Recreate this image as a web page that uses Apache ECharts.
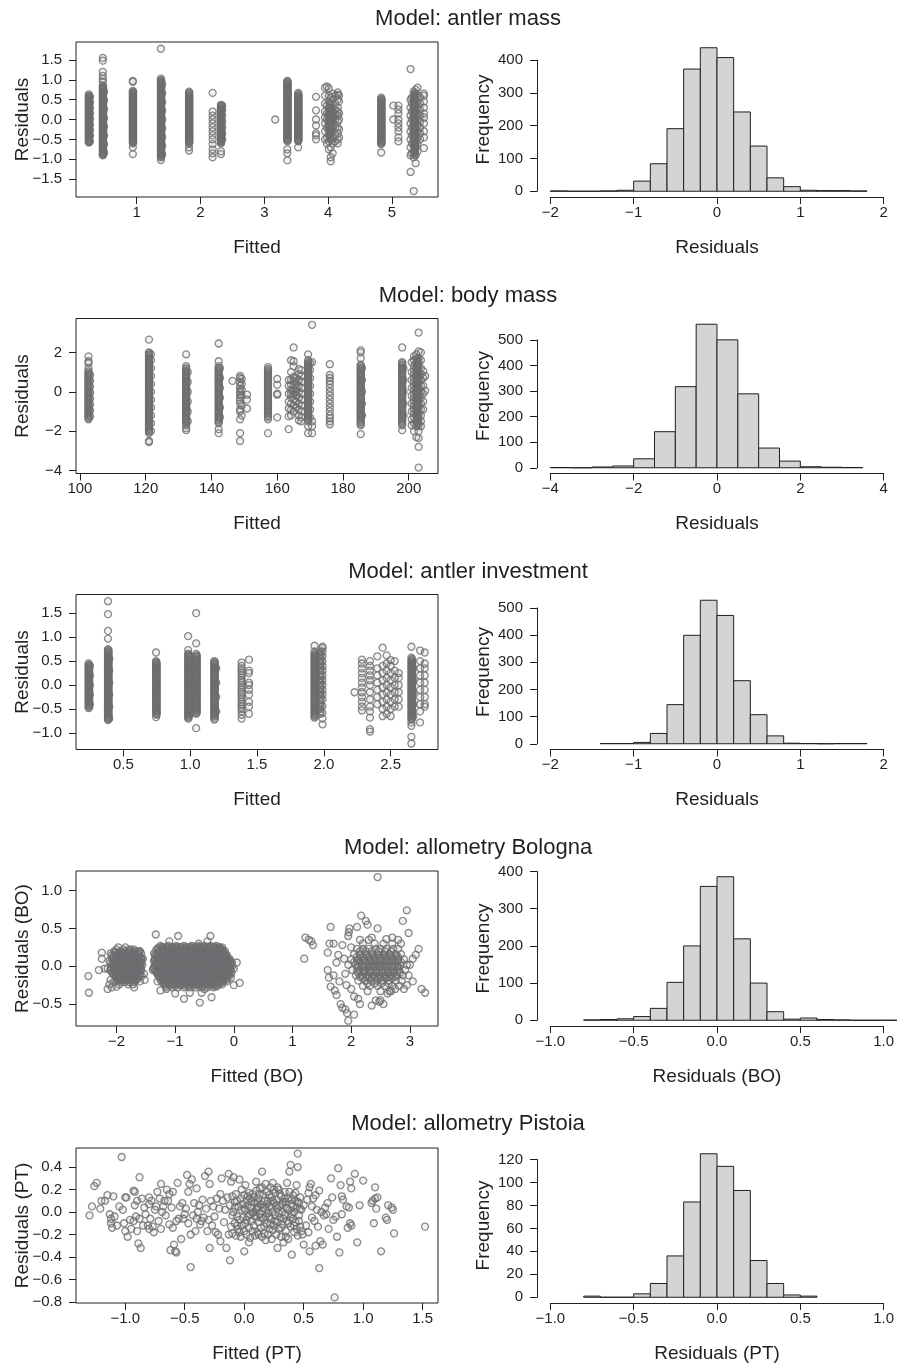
<!DOCTYPE html>
<html><head><meta charset="utf-8">
<script src="https://cdn.jsdelivr.net/npm/echarts@6/dist/echarts.min.js"></script>
<style>html,body{margin:0;padding:0;background:#fff}#c{width:908px;height:1365px}</style>
</head><body><div id="c"></div>
<script>
// ---------------- DATA ----------------
const titles = ["Model: antler mass", "Model: body mass", "Model: antler investment", "Model: allometry Bologna", "Model: allometry Pistoia"];
const scatterXNames = ["Fitted", "Fitted", "Fitted", "Fitted (BO)", "Fitted (PT)"];
const scatterYNames = ["Residuals", "Residuals", "Residuals", "Residuals (BO)", "Residuals (PT)"];
const histXNames = ["Residuals", "Residuals", "Residuals", "Residuals (BO)", "Residuals (PT)"];

// Histogram: first break, bin width, counts
const amHistStart = -2, amHistWidth = 0.2;
const amHistCounts = [1,0,0,1,3,31,84,191,373,438,408,242,138,41,14,3,2,2,1];
const bmHistStart = -4, bmHistWidth = 0.5;
const bmHistCounts = [1,0,3,7,35,141,317,561,500,289,77,26,4,2,1];
const aiHistStart = -1.4, aiHistWidth = 0.2;
const aiHistCounts = [1,1,5,38,144,399,528,472,232,107,29,2,1,0,1,1];
const boHistStart = -0.8, boHistWidth = 0.1;
const boHistCounts = [1,2,4,10,32,102,200,360,386,219,100,23,3,6,2,1,0,0,0,1];
const ptHistStart = -0.8, ptHistWidth = 0.1;
const ptHistCounts = [1,0,0,3,12,36,83,125,114,93,32,12,2,1];

// Tick labels (start, end, step, decimals)
const amXTicks = [1, 5, 1, 0], amYTicks = [-1.5, 1.5, 0.5, 1];
const bmXTicks = [100, 200, 20, 0], bmYTicks = [-4, 2, 2, 0];
const aiXTicks = [0.5, 2.5, 0.5, 1], aiYTicks = [-1, 1.5, 0.5, 1];
const boXTicks = [-2, 3, 1, 0], boYTicks = [-0.5, 1, 0.5, 1];
const ptXTicks = [-1, 1.5, 0.5, 1], ptYTicks = [-0.8, 0.4, 0.2, 1];
const hist1XTicks = [-2, 2, 1, 0], hist1YTicks = [0, 400, 100, 0];
const hist2XTicks = [-4, 4, 2, 0], hist2YTicks = [0, 500, 100, 0];
const hist3XTicks = [-2, 2, 1, 0], hist3YTicks = [0, 500, 100, 0];
const hist4XTicks = [-1, 1, 0.5, 1], hist4YTicks = [0, 400, 100, 0];
const hist5XTicks = [-1, 1, 0.5, 1], hist5YTicks = [0, 120, 20, 0];

// Scatter: antler mass — columns [fitted, [residuals]]
const amCols = [
 [0.25,[-0.58,-0.54,-0.5,-0.46,-0.42,-0.38,-0.34,-0.3,-0.26,-0.22,-0.18,-0.14,-0.1,-0.06,-0.02,0.02,0.06,0.1,0.14,0.18,0.22,0.26,0.3,0.34,0.38,0.42,0.46,0.5,0.54,0.58,0.63]],
 [0.255,[-0.56,-0.52,-0.48,-0.44,-0.4,-0.36,-0.32,-0.28,-0.24,-0.2,-0.16,-0.12,-0.08,-0.04,0,0.04,0.08,0.12,0.16,0.2,0.24,0.28,0.32,0.36,0.4,0.44,0.48,0.52,0.56,0.6]],
 [0.27,[-0.55,-0.41,-0.27,-0.13,0.01,0.15,0.29,0.43,0.57]],
 [0.47,[-0.9,-0.87,-0.83,-0.79,-0.75,-0.71,-0.67,-0.63,-0.59,-0.55,-0.51,-0.47,-0.43,-0.39,-0.35,-0.31,-0.27,-0.23,-0.19,-0.15,-0.11,-0.07,-0.03,0.01,0.05,0.09,0.13,0.17,0.21,0.25,0.29,0.33,0.37,0.41,0.45,0.49,0.53,0.57,0.61,0.65,0.69,0.73,0.77,0.81,0.85,0.95,1.02,1.1,1.2,1.48,1.55]],
 [0.475,[-0.89,-0.85,-0.81,-0.77,-0.73,-0.69,-0.65,-0.61,-0.57,-0.53,-0.49,-0.45,-0.41,-0.37,-0.33,-0.29,-0.25,-0.21,-0.17,-0.13,-0.09,-0.05,-0.01,0.03,0.07,0.11,0.15,0.19,0.23,0.27,0.31,0.35,0.39,0.43,0.47,0.51,0.55,0.59,0.63,0.67,0.71,0.75,0.79,0.83]],
 [0.49,[-0.84,-0.62,-0.4,-0.18,0.04,0.26,0.48,0.7]],
 [0.94,[-0.87,-0.7,-0.6,-0.56,-0.52,-0.48,-0.44,-0.4,-0.36,-0.32,-0.28,-0.24,-0.2,-0.16,-0.12,-0.08,-0.04,0,0.04,0.08,0.12,0.16,0.2,0.24,0.28,0.32,0.36,0.4,0.44,0.48,0.52,0.56,0.6,0.64,0.68,0.72,0.95,0.97]],
 [0.945,[-0.58,-0.54,-0.5,-0.46,-0.42,-0.38,-0.34,-0.3,-0.26,-0.22,-0.18,-0.14,-0.1,-0.06,-0.02,0.02,0.06,0.1,0.14,0.18,0.22,0.26,0.3,0.34,0.38,0.42,0.46,0.5,0.54,0.58,0.62,0.66,0.7]],
 [1.38,[-1.02,-0.95,-0.91,-0.87,-0.83,-0.79,-0.75,-0.71,-0.67,-0.63,-0.59,-0.55,-0.51,-0.47,-0.43,-0.39,-0.35,-0.31,-0.27,-0.23,-0.19,-0.15,-0.11,-0.07,-0.03,0.01,0.05,0.09,0.13,0.17,0.21,0.25,0.29,0.33,0.37,0.41,0.45,0.49,0.53,0.57,0.61,0.65,0.69,0.73,0.77,0.81,0.85,0.89,0.93,0.97,1.03,1.78]],
 [1.385,[-0.93,-0.89,-0.85,-0.81,-0.77,-0.73,-0.69,-0.65,-0.61,-0.57,-0.53,-0.49,-0.45,-0.41,-0.37,-0.33,-0.29,-0.25,-0.21,-0.17,-0.13,-0.09,-0.05,-0.01,0.03,0.07,0.11,0.15,0.19,0.23,0.27,0.31,0.35,0.39,0.43,0.47,0.51,0.55,0.59,0.63,0.67,0.71,0.75,0.79,0.83,0.87,0.91,0.95,0.99]],
 [1.40,[-0.88,-0.66,-0.44,-0.22,0,0.22,0.44,0.66,0.88]],
 [1.82,[-0.78,-0.7,-0.6,-0.56,-0.52,-0.48,-0.44,-0.4,-0.36,-0.32,-0.28,-0.24,-0.2,-0.16,-0.12,-0.08,-0.04,0,0.04,0.08,0.12,0.16,0.2,0.24,0.28,0.32,0.36,0.4,0.44,0.48,0.52,0.56,0.6,0.65,0.7]],
 [1.825,[-0.58,-0.54,-0.5,-0.46,-0.42,-0.38,-0.34,-0.3,-0.26,-0.22,-0.18,-0.14,-0.1,-0.06,-0.02,0.02,0.06,0.1,0.14,0.18,0.22,0.26,0.3,0.34,0.38,0.42,0.46,0.5,0.54,0.58,0.62,0.67]],
 [2.19,[-0.95,-0.85,-0.75,-0.62,-0.5,-0.4,-0.3,-0.2,-0.1,0.0,0.1,0.2,0.67]],
 [2.32,[-0.87,-0.8,-0.6,-0.56,-0.52,-0.48,-0.44,-0.4,-0.36,-0.32,-0.28,-0.24,-0.2,-0.16,-0.12,-0.08,-0.04,0,0.04,0.08,0.12,0.16,0.2,0.24,0.28,0.32,0.37]],
 [2.325,[-0.58,-0.54,-0.5,-0.46,-0.42,-0.38,-0.34,-0.3,-0.26,-0.22,-0.18,-0.14,-0.1,-0.06,-0.02,0.02,0.06,0.1,0.14,0.18,0.22,0.26,0.3,0.34]],
 [2.34,[-0.5,-0.35,-0.2,-0.05,0.1,0.25,0.35]],
 [3.17,[0.0]],
 [3.36,[-1.03,-0.85,-0.75,-0.55,-0.51,-0.47,-0.43,-0.39,-0.35,-0.31,-0.27,-0.23,-0.19,-0.15,-0.11,-0.07,-0.03,0.01,0.05,0.09,0.13,0.17,0.21,0.25,0.29,0.33,0.37,0.41,0.45,0.49,0.53,0.57,0.61,0.65,0.69,0.73,0.77,0.81,0.85,0.89,0.93,0.97]],
 [3.365,[-0.53,-0.49,-0.45,-0.41,-0.37,-0.33,-0.29,-0.25,-0.21,-0.17,-0.13,-0.09,-0.05,-0.01,0.03,0.07,0.11,0.15,0.19,0.23,0.27,0.31,0.35,0.39,0.43,0.47,0.51,0.55,0.59,0.63,0.67,0.71,0.75,0.79,0.83,0.87,0.91,0.95]],
 [3.53,[-0.7,-0.55,-0.51,-0.47,-0.43,-0.39,-0.35,-0.31,-0.27,-0.23,-0.19,-0.15,-0.11,-0.07,-0.03,0.01,0.05,0.09,0.13,0.17,0.21,0.25,0.29,0.33,0.37,0.41,0.45,0.49,0.53,0.57,0.61,0.67]],
 [3.535,[-0.53,-0.49,-0.45,-0.41,-0.37,-0.33,-0.29,-0.25,-0.21,-0.17,-0.13,-0.09,-0.05,-0.01,0.03,0.07,0.11,0.15,0.19,0.23,0.27,0.31,0.35,0.39,0.43,0.47,0.51,0.55,0.59,0.64]],
 [3.81,[-0.5,-0.4,-0.35,-0.15,0.0,0.23,0.57]],
 [3.95,[-0.5,-0.3,-0.1,0.05,0.2,0.4,0.6,0.8]],
 [3.98,[-0.6,-0.45,-0.2,0.0,0.15,0.35,0.83]],
 [4.01,[-0.75,-0.55,-0.4,-0.3,-0.2,-0.1,0.0,0.1,0.2,0.3,0.45,0.6,0.78]],
 [4.03,[-0.5,-0.44,-0.38,-0.32,-0.26,-0.2,-0.14,-0.08,-0.02,0.04,0.1,0.16,0.22,0.28,0.34,0.4]],
 [4.04,[-1.05,-0.95,-0.7,-0.5,-0.35,-0.25,-0.15,-0.05,0.05,0.15,0.25,0.4,0.55]],
 [4.07,[-0.85,-0.6,-0.45,-0.3,-0.2,-0.1,0.0,0.1,0.2,0.3,0.5,0.65]],
 [4.11,[-0.55,-0.4,-0.2,0.0,0.1,0.25,0.4,0.6]],
 [4.15,[-0.6,-0.5,-0.35,-0.2,-0.05,0.1,0.2,0.3,0.5,0.62,0.68]],
 [4.17,[-0.45,-0.25,0.0,0.15,0.45,0.6]],
 [4.83,[-0.83,-0.62,-0.58,-0.54,-0.5,-0.46,-0.42,-0.38,-0.34,-0.3,-0.26,-0.22,-0.18,-0.14,-0.1,-0.06,-0.02,0.02,0.06,0.1,0.14,0.18,0.22,0.26,0.3,0.34,0.38,0.42,0.46,0.5,0.55]],
 [4.835,[-0.6,-0.56,-0.52,-0.48,-0.44,-0.4,-0.36,-0.32,-0.28,-0.24,-0.2,-0.16,-0.12,-0.08,-0.04,0,0.04,0.08,0.12,0.16,0.2,0.24,0.28,0.32,0.36,0.4,0.44,0.48,0.52]],
 [5.02,[0.35,0.0]],
 [5.10,[-0.55,-0.45,-0.3,-0.2,-0.1,0.0,0.15,0.25,0.35]],
 [5.29,[-1.32,-0.9,-0.7,-0.5,-0.3,-0.1,0.1,0.3,0.5,1.27]],
 [5.31,[-0.85,-0.6,-0.4,-0.2,0.0,0.2,0.4,0.55]],
 [5.34,[-1.8,-0.95,-0.8,-0.65,-0.55,-0.45,-0.35,-0.25,-0.15,-0.05,0.05,0.15,0.25,0.35,0.45,0.55,0.7]],
 [5.355,[-0.88,-0.84,-0.8,-0.76,-0.72,-0.68,-0.64,-0.6,-0.56,-0.52,-0.48,-0.44,-0.4,-0.36,-0.32,-0.28,-0.24,-0.2,-0.16,-0.12,-0.08,-0.04,0,0.04,0.08,0.12,0.16,0.2,0.24,0.28,0.32,0.36,0.4,0.44,0.48,0.52,0.56,0.6,0.64]],
 [5.36,[-0.86,-0.82,-0.78,-0.74,-0.7,-0.66,-0.62,-0.58,-0.54,-0.5,-0.46,-0.42,-0.38,-0.34,-0.3,-0.26,-0.22,-0.18,-0.14,-0.1,-0.06,-0.02,0.02,0.06,0.1,0.14,0.18,0.22,0.26,0.3,0.34,0.38,0.42,0.46,0.5,0.54,0.58,0.62,0.66]],
 [5.37,[-1.1,-0.9,-0.7,-0.6,-0.5,-0.4,-0.3,-0.2,-0.1,0.0,0.1,0.2,0.3,0.4,0.5,0.6,0.75]],
 [5.40,[-0.8,-0.6,-0.45,-0.3,-0.15,0.0,0.15,0.3,0.45,0.6,0.8]],
 [5.44,[-0.5,-0.35,-0.2,-0.05,0.1,0.25,0.4,0.55]],
 [5.50,[-0.72,-0.45,-0.3,-0.1,0.05,0.15,0.3,0.45,0.6,0.65]]
];

// Scatter: body mass
const bmCols = [
 [102.6,[-1.4,-1.34,-1.27,-1.2,-1.13,-1.06,-0.99,-0.92,-0.85,-0.78,-0.71,-0.64,-0.57,-0.5,-0.43,-0.36,-0.29,-0.22,-0.15,-0.08,-0.01,0.06,0.13,0.2,0.27,0.34,0.41,0.48,0.55,0.62,0.69,0.76,0.83,0.9,0.97,1.04,1.2,1.45,1.55,1.8]],
 [103.1,[-1.25,-0.95,-0.65,-0.35,-0.05,0.25,0.55,0.85]],
 [121.0,[-2.55,-2.5,-2.1,-2.03,-1.96,-1.89,-1.82,-1.75,-1.68,-1.61,-1.54,-1.47,-1.4,-1.33,-1.26,-1.19,-1.12,-1.05,-0.98,-0.91,-0.84,-0.77,-0.7,-0.63,-0.56,-0.49,-0.42,-0.35,-0.28,-0.21,-0.14,-0.07,0,0.07,0.14,0.21,0.28,0.35,0.42,0.49,0.56,0.63,0.7,0.77,0.84,0.91,0.98,1.05,1.12,1.19,1.26,1.33,1.4,1.47,1.54,1.61,1.68,1.75,1.82,1.89,1.96,2.0,2.65]],
 [121.6,[-2.0,-1.6,-1.2,-0.8,-0.4,0.0,0.4,0.8,1.2,1.6,1.9]],
 [132.3,[-1.95,-1.85,-1.7,-1.6,-1.53,-1.46,-1.39,-1.32,-1.25,-1.18,-1.11,-1.04,-0.97,-0.9,-0.83,-0.76,-0.69,-0.62,-0.55,-0.48,-0.41,-0.34,-0.27,-0.2,-0.13,-0.06,0.01,0.08,0.15,0.22,0.29,0.36,0.43,0.5,0.57,0.64,0.71,0.78,0.85,0.92,0.99,1.06,1.13,1.2,1.3,1.9]],
 [132.8,[-1.5,-1.0,-0.5,0.0,0.5,1.0]],
 [142.2,[-2.1,-1.9,-1.6,-1.53,-1.46,-1.39,-1.32,-1.25,-1.18,-1.11,-1.04,-0.97,-0.9,-0.83,-0.76,-0.69,-0.62,-0.55,-0.48,-0.41,-0.34,-0.27,-0.2,-0.13,-0.06,0.01,0.08,0.15,0.22,0.29,0.36,0.43,0.5,0.57,0.64,0.71,0.78,0.85,0.92,0.99,1.06,1.13,1.2,1.3,1.55,2.45]],
 [142.6,[-1.3,-0.8,-0.3,0.2,0.7,1.2]],
 [146.4,[0.55]],
 [148.7,[-2.5,-2.1,-1.4,-1.0,-0.9,-0.6,-0.45,-0.3,-0.15,0.0,0.15,0.3,0.5,0.7,0.8]],
 [149.2,[-1.2,-0.7,-0.2,0.1,0.4,0.65]],
 [150.8,[-0.15,-0.4,-0.85]],
 [157.2,[-2.1,-1.4,-1.3,-1.23,-1.16,-1.09,-1.02,-0.95,-0.88,-0.81,-0.74,-0.67,-0.6,-0.53,-0.46,-0.39,-0.32,-0.25,-0.18,-0.11,-0.04,0.03,0.1,0.17,0.24,0.31,0.38,0.45,0.52,0.59,0.66,0.73,0.8,0.87,0.94,1.01,1.08,1.15,1.25]],
 [160.0,[0.65,0.35,-0.1,-0.15,-1.3]],
 [163.5,[-1.9,-1.25,-0.85,-0.5,-0.1,0.3,0.6]],
 [164.2,[-1.2,-0.9,-0.6,-0.3,-0.1,0.1,0.35,0.6,1.0,1.6]],
 [165.0,[-1.0,-0.7,-0.4,-0.15,0.05,0.3,0.55,0.75,1.3,1.55,2.25]],
 [165.8,[-0.8,-0.5,-0.2,0.0,0.2,0.45,0.7]],
 [166.6,[-1.45,-1.2,-0.9,-0.6,-0.3,0.0,0.3,0.6,0.9,1.15]],
 [167.3,[-1.5,-1.3,-1.0,-0.7,-0.4,-0.1,0.2,0.5,0.8,1.1]],
 [169.4,[-2.1,-1.75,-1.5,-1.43,-1.36,-1.29,-1.22,-1.15,-1.08,-1.01,-0.94,-0.87,-0.8,-0.73,-0.66,-0.59,-0.52,-0.45,-0.38,-0.31,-0.24,-0.17,-0.1,-0.03,0.04,0.11,0.18,0.25,0.32,0.39,0.46,0.53,0.6,0.67,0.74,0.81,0.88,0.95,1.02,1.09,1.16,1.23,1.3,1.37,1.44,1.5,1.6,1.9]],
 [170.0,[-1.3,-0.9,-0.5,-0.1,0.3,0.7,1.1,1.45]],
 [170.6,[3.4,-1.75,-2.1,1.5,-1.5]],
 [176.0,[-1.65,-1.5,-1.35,-1.2,-1.0,-0.8,-0.6,-0.4,-0.2,0.0,0.2,0.4,0.55,0.7,0.85,1.4]],
 [185.4,[-2.15,-1.7,-1.63,-1.56,-1.49,-1.42,-1.35,-1.28,-1.21,-1.14,-1.07,-1.0,-0.93,-0.86,-0.79,-0.72,-0.65,-0.58,-0.51,-0.44,-0.37,-0.3,-0.23,-0.16,-0.09,-0.02,0.05,0.12,0.19,0.26,0.33,0.4,0.47,0.54,0.61,0.68,0.75,0.82,0.89,0.96,1.03,1.1,1.17,1.24,1.31,1.38,1.7,2.0,2.1]],
 [185.8,[-1.2,-0.6,0.0,0.6,1.2]],
 [198.0,[-1.95,-1.7,-1.63,-1.56,-1.49,-1.42,-1.35,-1.28,-1.21,-1.14,-1.07,-1.0,-0.93,-0.86,-0.79,-0.72,-0.65,-0.58,-0.51,-0.44,-0.37,-0.3,-0.23,-0.16,-0.09,-0.02,0.05,0.12,0.19,0.26,0.33,0.4,0.47,0.54,0.61,0.68,0.75,0.82,0.89,0.96,1.03,1.1,1.17,1.24,1.31,1.38,1.45,1.5,2.25]],
 [198.4,[-1.2,-0.6,0.0,0.6,1.2]],
 [200.9,[-1.7,-1.4,-1.0,-0.6,-0.2,0.2,0.6,1.0,1.5]],
 [201.6,[-2.0,-1.6,-1.3,-1.1,-0.9,-0.7,-0.5,-0.3,-0.1,0.1,0.3,0.5,0.7,0.9,1.1,1.3,1.6,1.8]],
 [202.3,[-2.3,-1.75,-1.5,-1.25,-1.0,-0.8,-0.6,-0.4,-0.2,0.0,0.2,0.4,0.6,0.8,1.0,1.2,1.45,1.7,1.9]],
 [202.65,[-1.65,-1.58,-1.51,-1.44,-1.37,-1.3,-1.23,-1.16,-1.09,-1.02,-0.95,-0.88,-0.81,-0.74,-0.67,-0.6,-0.53,-0.46,-0.39,-0.32,-0.25,-0.18,-0.11,-0.04,0.03,0.1,0.17,0.24,0.31,0.38,0.45,0.52,0.59,0.66,0.73,0.8,0.87,0.94,1.01,1.08,1.15,1.22,1.29,1.36,1.43,1.5,1.57,1.64]],
 [203.0,[-3.85,-2.8,-2.35,-2.0,-1.7,-1.4,-1.2,-1.0,-0.8,-0.6,-0.4,-0.2,0.0,0.2,0.4,0.6,0.8,1.0,1.25,1.5,1.7,2.05,3.0]],
 [203.7,[-1.75,-1.5,-1.2,-0.9,-0.6,-0.3,0.0,0.3,0.6,0.9,1.2,1.6,2.0]],
 [204.4,[-0.9,-0.5,-0.1,0.3,0.7,1.05]],
 [205.0,[0.05,0.8]]
];

// Scatter: antler investment
const aiCols = [
 [0.24,[-0.48,-0.44,-0.4,-0.36,-0.32,-0.28,-0.24,-0.2,-0.16,-0.12,-0.08,-0.04,0,0.04,0.08,0.12,0.16,0.2,0.24,0.28,0.32,0.36,0.4,0.45]],
 [0.245,[-0.46,-0.42,-0.38,-0.34,-0.3,-0.26,-0.22,-0.18,-0.14,-0.1,-0.06,-0.02,0.02,0.06,0.1,0.14,0.18,0.22,0.26,0.3,0.34,0.38,0.42]],
 [0.25,[-0.4,-0.2,0.0,0.2,0.4]],
 [0.385,[-0.73,-0.69,-0.65,-0.61,-0.57,-0.53,-0.49,-0.45,-0.41,-0.37,-0.33,-0.29,-0.25,-0.21,-0.17,-0.13,-0.09,-0.05,-0.01,0.03,0.07,0.11,0.15,0.19,0.23,0.27,0.31,0.35,0.39,0.43,0.47,0.51,0.55,0.59,0.63,0.67,0.71,0.75,0.97,1.13,1.48,1.75]],
 [0.39,[-0.71,-0.67,-0.63,-0.59,-0.55,-0.51,-0.47,-0.43,-0.39,-0.35,-0.31,-0.27,-0.23,-0.19,-0.15,-0.11,-0.07,-0.03,0.01,0.05,0.09,0.13,0.17,0.21,0.25,0.29,0.33,0.37,0.41,0.45,0.49,0.53,0.57,0.61,0.65,0.69,0.73]],
 [0.395,[-0.7,-0.45,-0.2,0.05,0.3,0.55]],
 [0.745,[-0.67,-0.6,-0.56,-0.52,-0.48,-0.44,-0.4,-0.36,-0.32,-0.28,-0.24,-0.2,-0.16,-0.12,-0.08,-0.04,0,0.04,0.08,0.12,0.16,0.2,0.24,0.28,0.32,0.36,0.4,0.44,0.48,0.5,0.68]],
 [0.75,[-0.62,-0.58,-0.54,-0.5,-0.46,-0.42,-0.38,-0.34,-0.3,-0.26,-0.22,-0.18,-0.14,-0.1,-0.06,-0.02,0.02,0.06,0.1,0.14,0.18,0.22,0.26,0.3,0.34,0.38,0.42,0.46]],
 [0.985,[-0.7,-0.66,-0.62,-0.58,-0.54,-0.5,-0.46,-0.42,-0.38,-0.34,-0.3,-0.26,-0.22,-0.18,-0.14,-0.1,-0.06,-0.02,0.02,0.06,0.1,0.14,0.18,0.22,0.26,0.3,0.34,0.38,0.42,0.46,0.5,0.54,0.58,0.62,0.65,0.73,1.02]],
 [0.99,[-0.68,-0.64,-0.6,-0.56,-0.52,-0.48,-0.44,-0.4,-0.36,-0.32,-0.28,-0.24,-0.2,-0.16,-0.12,-0.08,-0.04,0,0.04,0.08,0.12,0.16,0.2,0.24,0.28,0.32,0.36,0.4,0.44,0.48,0.52,0.56,0.6,0.64]],
 [1.0,[-0.6,-0.3,0.0,0.3,0.6]],
 [1.045,[-0.9,-0.6,-0.56,-0.52,-0.48,-0.44,-0.4,-0.36,-0.32,-0.28,-0.24,-0.2,-0.16,-0.12,-0.08,-0.04,0,0.04,0.08,0.12,0.16,0.2,0.24,0.28,0.32,0.36,0.4,0.44,0.48,0.52,0.56,0.6,0.65,0.87,1.5]],
 [1.05,[-0.58,-0.54,-0.5,-0.46,-0.42,-0.38,-0.34,-0.3,-0.26,-0.22,-0.18,-0.14,-0.1,-0.06,-0.02,0.02,0.06,0.1,0.14,0.18,0.22,0.26,0.3,0.34,0.38,0.42,0.46,0.5,0.54,0.58,0.62]],
 [1.18,[-0.72,-0.66,-0.62,-0.58,-0.54,-0.5,-0.46,-0.42,-0.38,-0.34,-0.3,-0.26,-0.22,-0.18,-0.14,-0.1,-0.06,-0.02,0.02,0.06,0.1,0.14,0.18,0.22,0.26,0.3,0.34,0.38,0.42,0.46,0.5]],
 [1.185,[-0.7,-0.64,-0.6,-0.56,-0.52,-0.48,-0.44,-0.4,-0.36,-0.32,-0.28,-0.24,-0.2,-0.16,-0.12,-0.08,-0.04,0,0.04,0.08,0.12,0.16,0.2,0.24,0.28,0.32,0.36,0.4,0.44,0.48]],
 [1.195,[-0.55,-0.25,0.05,0.35]],
 [1.385,[-0.7,-0.62,-0.55,-0.5,-0.45,-0.4,-0.35,-0.3,-0.25,-0.2,-0.15,-0.1,-0.05,0,0.05,0.1,0.15,0.2,0.25,0.3,0.35,0.4,0.47]],
 [1.44,[-0.6,-0.45,-0.35,-0.2,-0.1,0.0,0.05,0.25,0.3,0.53]],
 [1.93,[-0.68,-0.64,-0.6,-0.56,-0.52,-0.48,-0.44,-0.4,-0.36,-0.32,-0.28,-0.24,-0.2,-0.16,-0.12,-0.08,-0.04,0,0.04,0.08,0.12,0.16,0.2,0.24,0.28,0.32,0.36,0.4,0.44,0.48,0.52,0.56,0.6,0.64,0.7,0.82]],
 [1.935,[-0.66,-0.62,-0.58,-0.54,-0.5,-0.46,-0.42,-0.38,-0.34,-0.3,-0.26,-0.22,-0.18,-0.14,-0.1,-0.06,-0.02,0.02,0.06,0.1,0.14,0.18,0.22,0.26,0.3,0.34,0.38,0.42,0.46,0.5,0.54,0.58,0.62,0.66]],
 [1.96,[-0.5,-0.2,0.1,0.4,0.65]],
 [1.975,[-0.6,-0.55,-0.5,-0.45,-0.4,-0.35,-0.3,-0.25,-0.2,-0.15,-0.1,-0.05,0,0.05,0.1,0.15,0.2,0.25,0.3,0.35,0.4,0.45,0.5,0.55,0.6,0.65,0.7]],
 [1.99,[-0.82,-0.7,-0.58,-0.44,-0.3,-0.2,-0.1,0.0,0.1,0.2,0.3,0.4,0.5,0.6,0.7,0.77,0.8]],
 [2.23,[-0.15]],
 [2.285,[-0.53,-0.45,-0.35,-0.25,-0.15,-0.05,0.05,0.15,0.25,0.35,0.45,0.53]],
 [2.345,[-0.97,-0.92,-0.68,-0.55,-0.45,-0.3,-0.15,0.0,0.1,0.2,0.3,0.4,0.5]],
 [2.40,[-0.4,-0.25,-0.1,0.05,0.2,0.35,0.6]],
 [2.44,[-0.65,-0.5,-0.35,-0.2,-0.05,0.1,0.25,0.4,0.78]],
 [2.47,[-0.6,-0.45,-0.3,-0.15,0.0,0.15,0.3,0.45,0.62]],
 [2.50,[-0.65,-0.5,-0.35,-0.2,-0.05,0.1,0.25,0.4,0.52]],
 [2.53,[-0.45,-0.3,-0.15,0.0,0.15,0.3,0.5]],
 [2.56,[-0.45,-0.3,-0.15,0.0,0.15,0.25]],
 [2.655,[-1.22,-1.08,-0.85,-0.78,-0.72,-0.68,-0.64,-0.6,-0.56,-0.52,-0.48,-0.44,-0.4,-0.36,-0.32,-0.28,-0.24,-0.2,-0.16,-0.12,-0.08,-0.04,0,0.04,0.08,0.12,0.16,0.2,0.24,0.28,0.32,0.36,0.4,0.44,0.48,0.52,0.57,0.8]],
 [2.66,[-0.7,-0.66,-0.62,-0.58,-0.54,-0.5,-0.46,-0.42,-0.38,-0.34,-0.3,-0.26,-0.22,-0.18,-0.14,-0.1,-0.06,-0.02,0.02,0.06,0.1,0.14,0.18,0.22,0.26,0.3,0.34,0.38,0.42,0.46,0.5,0.54]],
 [2.67,[-0.65,-0.4,-0.15,0.1,0.35]],
 [2.72,[-0.78,-0.55,-0.4,-0.25,-0.1,0.05,0.2,0.35,0.5,0.72]],
 [2.755,[-0.45,-0.4,-0.25,-0.1,0.05,0.2,0.35,0.45,0.68]]
];

// Scatter: allometry Bologna — dense rows [residual, [fitted...]] and loose points [fitted, residual]
const boRows = [
 [0.22,[-2.0,-1.88,-1.78,-1.7]],
 [0.195,[-2.04,-1.94,-1.86,-1.78,-1.7,-1.62]],
 [0.18,[-2.02,-1.94,-1.86,-1.78,-1.7,-1.62]],
 [0.17,[-2.1,-1.98,-1.9,-1.82,-1.74,-1.65,-1.58]],
 [0.145,[-2.08,-2.0,-1.94,-1.88,-1.82,-1.75,-1.69,-1.62]],
 [0.1325,[-2.02,-1.92,-1.8,-1.68]],
 [0.12,[-2.05,-1.97,-1.91,-1.85,-1.79,-1.72,-1.66,-1.6]],
 [0.11,[-2.08,-2.0,-1.94,-1.88,-1.82,-1.76,-1.7,-1.64,-1.58]],
 [0.095,[-2.0,-1.93,-1.87,-1.81,-1.75,-1.69,-1.63,-1.57]],
 [0.07,[-2.12,-2.03,-1.96,-1.9,-1.84,-1.78,-1.72,-1.66,-1.59]],
 [0.0575,[-2.06,-1.94,-1.82,-1.7,-1.6]],
 [0.045,[-2.1,-2.03,-1.97,-1.91,-1.85,-1.79,-1.73,-1.67,-1.6]],
 [0.035,[-2.06,-2.0,-1.94,-1.88,-1.82,-1.76,-1.7,-1.64,-1.58]],
 [0.02,[-2.07,-2.0,-1.94,-1.88,-1.82,-1.76,-1.7,-1.63,-1.56]],
 [-0.005,[-2.04,-1.97,-1.91,-1.85,-1.79,-1.73,-1.66,-1.59]],
 [-0.0175,[-2.08,-1.94,-1.82,-1.7,-1.62]],
 [-0.03,[-2.15,-2.04,-1.97,-1.91,-1.85,-1.79,-1.73,-1.67,-1.6]],
 [-0.04,[-2.1,-2.0,-1.94,-1.88,-1.82,-1.76,-1.7,-1.64,-1.58]],
 [-0.055,[-2.1,-2.02,-1.95,-1.89,-1.83,-1.77,-1.71,-1.64,-1.58]],
 [-0.08,[-2.08,-2.0,-1.93,-1.87,-1.81,-1.75,-1.69,-1.62]],
 [-0.0925,[-2.02,-1.9,-1.78,-1.66]],
 [-0.105,[-2.05,-1.97,-1.9,-1.84,-1.78,-1.72,-1.66,-1.6]],
 [-0.115,[-2.04,-1.96,-1.9,-1.84,-1.78,-1.72,-1.66,-1.6]],
 [-0.13,[-2.02,-1.95,-1.89,-1.83,-1.77,-1.71,-1.64,-1.57]],
 [-0.155,[-2.0,-1.93,-1.86,-1.79,-1.72,-1.64]],
 [-0.1675,[-1.96,-1.84,-1.72]],
 [-0.18,[-2.1,-1.98,-1.9,-1.82,-1.74,-1.66]],
 [-0.19,[-2.0,-1.92,-1.84,-1.76,-1.68]],
 [-0.21,[-2.05,-1.94,-1.86,-1.78,-1.7]],
 [-0.24,[-2.12,-1.95,-1.8,-1.72]],
 [0.27,[-1.25,-1.12,-0.98,-0.85,-0.72,-0.6,-0.5,-0.4,-0.3]],
 [0.255,[-1.22,-1.14,-1.06,-0.98,-0.9,-0.82,-0.74,-0.66,-0.58,-0.5,-0.42,-0.34,-0.26]],
 [0.245,[-1.28,-1.2,-1.12,-1.04,-0.96,-0.88,-0.8,-0.72,-0.64,-0.56,-0.48,-0.4,-0.32,-0.24]],
 [0.2325,[-1.3,-1.18,-1.06,-0.94,-0.82,-0.7,-0.58,-0.46,-0.34,-0.22]],
 [0.22,[-1.32,-1.22,-1.14,-1.06,-0.98,-0.9,-0.82,-0.74,-0.66,-0.58,-0.5,-0.42,-0.34,-0.26,-0.2]],
 [0.21,[-1.26,-1.18,-1.1,-1.02,-0.94,-0.86,-0.78,-0.7,-0.62,-0.54,-0.46,-0.38,-0.3,-0.22]],
 [0.195,[-1.28,-1.2,-1.12,-1.04,-0.96,-0.88,-0.8,-0.72,-0.64,-0.56,-0.48,-0.4,-0.32,-0.24,-0.18]],
 [0.17,[-1.36,-1.28,-1.2,-1.12,-1.04,-0.96,-0.88,-0.8,-0.72,-0.64,-0.56,-0.48,-0.4,-0.32,-0.24,-0.17]],
 [0.1575,[-1.34,-1.22,-1.1,-0.98,-0.86,-0.74,-0.62,-0.5,-0.38,-0.26,-0.14]],
 [0.145,[-1.3,-1.22,-1.14,-1.06,-0.98,-0.9,-0.82,-0.74,-0.66,-0.58,-0.5,-0.42,-0.34,-0.26,-0.18,-0.12]],
 [0.135,[-1.34,-1.26,-1.18,-1.1,-1.02,-0.94,-0.86,-0.78,-0.7,-0.62,-0.54,-0.46,-0.38,-0.3,-0.22,-0.15]],
 [0.12,[-1.32,-1.24,-1.16,-1.08,-1.0,-0.92,-0.84,-0.76,-0.68,-0.6,-0.52,-0.44,-0.36,-0.28,-0.2,-0.12]],
 [0.095,[-1.34,-1.26,-1.18,-1.1,-1.02,-0.94,-0.86,-0.78,-0.7,-0.62,-0.54,-0.46,-0.38,-0.3,-0.22,-0.14,-0.07]],
 [0.0825,[-1.3,-1.18,-1.06,-0.94,-0.82,-0.7,-0.58,-0.46,-0.34,-0.22,-0.1]],
 [0.07,[-1.36,-1.28,-1.2,-1.12,-1.04,-0.96,-0.88,-0.8,-0.72,-0.64,-0.56,-0.48,-0.4,-0.32,-0.24,-0.16,-0.08]],
 [0.06,[-1.32,-1.24,-1.16,-1.08,-1.0,-0.92,-0.84,-0.76,-0.68,-0.6,-0.52,-0.44,-0.36,-0.28,-0.2,-0.12,-0.05]],
 [0.045,[-1.31,-1.23,-1.15,-1.07,-0.99,-0.91,-0.83,-0.75,-0.67,-0.59,-0.51,-0.43,-0.35,-0.27,-0.19,-0.11,-0.03]],
 [0.02,[-1.33,-1.25,-1.17,-1.09,-1.01,-0.93,-0.85,-0.77,-0.69,-0.61,-0.53,-0.45,-0.37,-0.29,-0.21,-0.13,-0.05]],
 [0.0075,[-1.35,-1.23,-1.11,-0.99,-0.87,-0.75,-0.63,-0.51,-0.39,-0.27,-0.15,-0.05]],
 [-0.005,[-1.31,-1.23,-1.15,-1.07,-0.99,-0.91,-0.83,-0.75,-0.67,-0.59,-0.51,-0.43,-0.35,-0.27,-0.19,-0.11,-0.03]],
 [-0.015,[-1.35,-1.27,-1.19,-1.11,-1.03,-0.95,-0.87,-0.79,-0.71,-0.63,-0.55,-0.47,-0.39,-0.31,-0.23,-0.15,-0.07]],
 [-0.03,[-1.37,-1.29,-1.21,-1.13,-1.05,-0.97,-0.89,-0.81,-0.73,-0.65,-0.57,-0.49,-0.41,-0.33,-0.25,-0.17,-0.09,0.0]],
 [-0.055,[-1.34,-1.26,-1.18,-1.1,-1.02,-0.94,-0.86,-0.78,-0.7,-0.62,-0.54,-0.46,-0.38,-0.3,-0.22,-0.14,-0.06]],
 [-0.0675,[-1.3,-1.18,-1.06,-0.94,-0.82,-0.7,-0.58,-0.46,-0.34,-0.22,-0.1]],
 [-0.08,[-1.32,-1.24,-1.16,-1.08,-1.0,-0.92,-0.84,-0.76,-0.68,-0.6,-0.52,-0.44,-0.36,-0.28,-0.2,-0.12,-0.04]],
 [-0.09,[-1.28,-1.2,-1.12,-1.04,-0.96,-0.88,-0.8,-0.72,-0.64,-0.56,-0.48,-0.4,-0.32,-0.24,-0.16,-0.08]],
 [-0.105,[-1.3,-1.22,-1.14,-1.06,-0.98,-0.9,-0.82,-0.74,-0.66,-0.58,-0.5,-0.42,-0.34,-0.26,-0.18,-0.1]],
 [-0.13,[-1.28,-1.2,-1.12,-1.04,-0.96,-0.88,-0.8,-0.72,-0.64,-0.56,-0.48,-0.4,-0.32,-0.24,-0.16,-0.08]],
 [-0.1425,[-1.26,-1.14,-1.02,-0.9,-0.78,-0.66,-0.54,-0.42,-0.3,-0.18]],
 [-0.155,[-1.24,-1.16,-1.08,-1.0,-0.92,-0.84,-0.76,-0.68,-0.6,-0.52,-0.44,-0.36,-0.28,-0.2,-0.12]],
 [-0.165,[-1.21,-1.13,-1.05,-0.97,-0.89,-0.81,-0.73,-0.65,-0.57,-0.49,-0.41,-0.33,-0.25,-0.17]],
 [-0.18,[-1.25,-1.17,-1.09,-1.01,-0.93,-0.85,-0.77,-0.69,-0.61,-0.53,-0.45,-0.37,-0.29,-0.21,-0.13]],
 [-0.205,[-1.22,-1.14,-1.06,-0.98,-0.9,-0.82,-0.74,-0.66,-0.58,-0.5,-0.42,-0.34,-0.26,-0.18]],
 [-0.2175,[-1.18,-1.06,-0.94,-0.82,-0.7,-0.58,-0.46,-0.34,-0.22]],
 [-0.23,[-1.2,-1.12,-1.04,-0.96,-0.88,-0.8,-0.72,-0.64,-0.56,-0.48,-0.4,-0.32,-0.24]],
 [-0.24,[-1.16,-1.08,-1.0,-0.92,-0.84,-0.76,-0.68,-0.6,-0.52,-0.44,-0.36,-0.28]],
 [-0.255,[-1.16,-1.08,-1.0,-0.92,-0.84,-0.76,-0.68,-0.6,-0.52,-0.44,-0.36,-0.28]],
 [-0.28,[-1.15,-1.05,-0.95,-0.85,-0.75,-0.65,-0.55,-0.45,-0.35]],
 [0.30,[2.2,2.4,2.55,2.7]],
 [0.23,[2.1,2.2,2.3,2.42,2.5,2.6,2.72,2.8]],
 [0.195,[2.15,2.25,2.35,2.47,2.58,2.68]],
 [0.16,[2.05,2.15,2.25,2.35,2.45,2.55,2.65,2.75,2.85]],
 [0.14,[2.15,2.27,2.37,2.47,2.57,2.67,2.77]],
 [0.125,[2.1,2.2,2.3,2.4,2.5,2.6,2.7,2.8]],
 [0.09,[2.0,2.12,2.22,2.32,2.4,2.5,2.6,2.7,2.8,2.9]],
 [0.07,[2.1,2.2,2.3,2.4,2.5,2.6,2.7,2.8]],
 [0.055,[2.05,2.15,2.25,2.35,2.45,2.55,2.65,2.75,2.85]],
 [0.02,[1.95,2.08,2.18,2.28,2.36,2.46,2.55,2.64,2.74,2.84,2.95]],
 [0.0,[2.13,2.23,2.33,2.43,2.5,2.6,2.69,2.79]],
 [-0.015,[2.1,2.2,2.3,2.4,2.5,2.6,2.7,2.8]],
 [-0.05,[2.02,2.14,2.24,2.33,2.43,2.52,2.62,2.72,2.82,2.92]],
 [-0.07,[2.1,2.2,2.3,2.38,2.48,2.58,2.68,2.78]],
 [-0.085,[2.13,2.23,2.33,2.43,2.53,2.63,2.73,2.83]],
 [-0.12,[2.08,2.18,2.28,2.38,2.48,2.58,2.68,2.78,2.88]],
 [-0.14,[2.15,2.25,2.35,2.45,2.55,2.65,2.75]],
 [-0.155,[2.2,2.3,2.4,2.5,2.6,2.7]],
 [-0.19,[2.12,2.24,2.34,2.44,2.54,2.64,2.76,2.86]],
 [-0.225,[2.28,2.4,2.52,2.64]],
 [-0.26,[2.2,2.32,2.45,2.58,2.7,2.82]],
 [-0.33,[2.28,2.5,2.65]]
];
const boLoose = [
 [-2.48,-0.13],[-2.47,-0.35],[-2.3,-0.05],[-2.25,0.1],[-2.25,0.18],[-2.2,-0.03],[-2.15,-0.3],[-2.08,-0.28],[-2.0,-0.27],[-1.97,0.25],[-1.85,0.25],[-1.75,0.22],[-1.7,-0.28],[-1.6,0.2],[-1.55,0.1],[-1.53,-0.1],[-1.52,-0.18],[-1.6,-0.2],
 [-1.33,0.42],[-1.1,0.33],[-0.95,0.4],[-0.4,0.4],[-0.45,0.33],[-0.6,0.3],[-1.38,-0.05],[-1.35,0.08],[-1.3,-0.2],[-1.25,-0.32],[-1.0,-0.36],[-0.85,-0.43],[-0.75,-0.35],[-0.58,-0.48],[-0.55,-0.35],[-0.38,-0.41],[-0.5,-0.3],[-0.3,-0.27],[-0.2,-0.24],[-0.12,-0.2],[-0.05,-0.15],[0.0,-0.25],[0.1,-0.22],[-0.05,-0.1],[0.05,0.05],[-0.1,0.1],[-0.15,0.2],[-1.15,-0.3],[-0.2,0.25],
 [1.2,0.1],[1.22,0.38],[1.28,0.35],[1.32,0.33],[1.35,0.28],
 [1.6,0.18],[1.65,0.52],[1.63,0.3],[1.7,0.3],[1.6,-0.05],[1.62,-0.15],[1.65,-0.27],[1.72,-0.32],[1.75,-0.38],[1.7,-0.12],[1.75,0.05],[1.8,-0.2],[1.78,0.15],[1.82,-0.5],[1.85,-0.55],[1.9,-0.57],[1.93,-0.62],[1.95,-0.72],[2.05,-0.64],[1.88,0.1],[1.9,-0.1],[1.95,0.4],[1.97,0.5],[1.96,0.45],[2.1,0.52],[2.05,-0.4],[2.0,-0.3],[2.15,-0.5],[2.12,-0.43],[2.17,0.67],[2.25,0.6],[2.28,0.55],[2.3,0.35],[2.45,0.5],[2.45,1.18],[2.35,-0.52],[2.42,-0.45],[2.48,-0.47],[2.5,-0.45],[2.55,-0.5],[2.62,-0.36],[2.68,-0.33],[2.75,-0.3],[2.8,0.35],[2.85,0.3],[2.88,0.6],[2.95,0.74],[2.98,0.44],[2.95,-0.25],[3.0,0.02],[3.05,-0.2],[3.1,0.15],[3.15,0.23],[3.2,-0.3],[3.26,-0.35],[2.9,-0.3],[2.98,-0.12],[3.05,0.1],[2.7,0.38],[2.6,0.36],[2.35,0.38],[2.15,0.35],[2.0,0.25],[1.85,0.28],[1.92,-0.25]
];

// Scatter: allometry Pistoia — [fitted, residual]
const ptPoints = [
 [-1.30,-0.03],[-1.28,0.05],[-1.26,0.23],[-1.24,0.26],[-1.21,0.03],[-1.2,0.1],
 [-1.17,0.1],[-1.15,0.15],[-1.13,-0.02],[-1.12,-0.06],[-1.12,-0.1],[-1.11,-0.14],[-1.1,0.14],[-1.09,-0.04],
 [-1.07,-0.12],[-1.05,0.05],[-1.03,0.49],[-1.02,0.02],[-1.01,-0.1],[-1.0,0.13],[-1.0,-0.17],
 [-0.99,0.13],[-0.98,-0.22],[-0.96,-0.07],[-0.95,-0.15],[-0.93,-0.08],[-0.93,0.19],[-0.92,0.18],[-0.92,0.06],[-0.91,-0.04],[-0.9,-0.17],[-0.9,0.1],
 [-0.89,-0.28],[-0.88,0.31],[-0.88,-0.06],[-0.87,-0.32],[-0.86,0.12],[-0.85,-0.12],[-0.84,0.04],[-0.83,-0.02],[-0.81,-0.12],[-0.8,0.13],[-0.8,0.07],[-0.8,-0.15],
 [-0.79,-0.06],[-0.78,0.1],[-0.77,-0.13],[-0.76,-0.18],[-0.75,0.02],[-0.74,0.05],[-0.73,0.18],[-0.72,-0.08],[-0.71,0.12],[-0.7,-0.15],[-0.7,0.25],
 [-0.69,0.0],[-0.68,0.05],[-0.67,0.1],[-0.66,-0.03],[-0.65,0.2],[-0.64,0.1],[-0.63,0.16],[-0.63,-0.11],[-0.62,-0.34],[-0.61,0.04],[-0.6,-0.14],[-0.6,0.18],
 [-0.59,-0.29],[-0.58,-0.35],[-0.57,-0.36],[-0.57,-0.08],[-0.56,0.26],[-0.55,-0.06],[-0.54,0.05],[-0.53,-0.24],[-0.52,0.08],[-0.51,-0.06],[-0.5,-0.02],
 [-0.49,0.03],[-0.48,0.33],[-0.47,-0.1],[-0.47,0.18],[-0.46,0.25],[-0.45,-0.49],[-0.45,-0.2],[-0.44,0.29],[-0.43,-0.03],[-0.42,0.08],[-0.41,-0.17],[-0.4,0.21],[-0.4,-0.06],
 [-0.39,0.0],[-0.38,0.06],[-0.37,-0.11],[-0.36,-0.08],[-0.35,0.11],[-0.34,-0.05],[-0.33,0.32],[-0.32,0.03],[-0.31,-0.17],[-0.3,0.36],[-0.3,-0.07],
 [-0.29,-0.32],[-0.29,0.25],[-0.28,0.1],[-0.27,-0.12],[-0.26,0.05],[-0.25,-0.04],[-0.24,-0.18],[-0.23,0.12],[-0.22,-0.2],[-0.21,0.03],[-0.2,0.16],[-0.2,-0.26],
 [-0.19,0.3],[-0.18,0.1],[-0.17,-0.09],[-0.16,0.02],[-0.15,-0.32],[-0.14,0.13],[-0.13,-0.2],[-0.13,0.34],[-0.12,-0.43],[-0.12,0.06],[-0.11,-0.13],[-0.11,0.27],[-0.1,-0.03],[-0.1,0.14],[-0.1,-0.19],
 [-0.09,0.31],[-0.09,0.0],[-0.08,-0.1],[-0.08,0.09],[-0.07,-0.21],[-0.07,0.16],[-0.06,-0.04],[-0.05,0.05],[-0.05,-0.15],[-0.04,0.29],[-0.04,-0.07],[-0.03,0.12],[-0.03,-0.22],[-0.02,0.02],[-0.02,-0.12],[-0.01,0.07],[-0.01,-0.05],[0.0,-0.35],[0.0,0.15],[0.0,-0.17],
 [0.01,0.02],[0.01,-0.1],[0.02,0.1],[0.02,-0.2],[0.03,0.06],[0.03,-0.04],[0.04,0.17],[0.04,-0.14],[0.05,-0.02],[0.05,0.12],[0.06,-0.08],[0.06,0.04],[0.07,-0.17],[0.07,0.16],[0.08,0.0],[0.08,-0.12],[0.09,0.08],[0.09,-0.21],[0.1,-0.05],[0.1,0.19],[0.1,0.27],
 [0.11,-0.18],[0.11,0.04],[0.12,0.12],[0.12,-0.09],[0.13,-0.02],[0.13,0.21],[0.14,0.07],[0.14,-0.14],[0.15,-0.22],[0.15,0.36],[0.15,0.01],[0.16,0.15],[0.16,-0.06],[0.17,0.1],[0.17,-0.19],[0.18,0.25],[0.18,-0.25],[0.18,0.03],[0.19,-0.1],[0.19,0.18],[0.2,-0.01],[0.2,0.1],
 [0.21,-0.15],[0.21,0.05],[0.22,0.22],[0.22,-0.06],[0.23,0.13],[0.23,-0.24],[0.24,0.0],[0.24,0.26],[0.25,-0.12],[0.25,0.08],[0.26,0.17],[0.26,-0.03],[0.27,-0.2],[0.27,0.11],[0.28,0.03],[0.28,-0.09],[0.28,-0.32],[0.29,0.2],[0.29,-0.15],[0.3,0.06],[0.3,-0.05],
 [0.31,0.14],[0.31,-0.22],[0.32,0.0],[0.32,-0.11],[0.33,0.09],[0.33,-0.27],[0.34,0.18],[0.34,-0.03],[0.35,-0.17],[0.35,0.04],[0.36,0.26],[0.36,-0.08],[0.37,0.12],[0.37,-0.24],[0.38,0.36],[0.38,0.02],[0.39,0.42],[0.39,-0.13],[0.4,-0.38],[0.4,0.07],[0.4,-0.02],
 [0.41,0.15],[0.41,-0.06],[0.42,0.0],[0.42,-0.18],[0.43,0.1],[0.43,-0.09],[0.44,0.24],[0.44,0.04],[0.45,0.52],[0.45,0.4],[0.45,-0.21],[0.46,-0.03],[0.46,0.08],[0.47,-0.13],[0.47,0.13],[0.48,0.02],[0.49,-0.2],[0.5,-0.29],[0.5,0.06],
 [0.52,-0.12],[0.53,0.11],[0.54,0.17],[0.54,-0.18],[0.55,0.22],[0.55,-0.35],[0.56,0.25],[0.57,0.05],[0.57,-0.05],[0.58,0.12],[0.59,-0.08],[0.6,0.15],[0.6,-0.3],
 [0.61,0.02],[0.62,-0.13],[0.63,0.19],[0.63,-0.5],[0.64,-0.26],[0.65,0.0],[0.66,-0.29],[0.67,-0.03],[0.68,0.04],[0.69,-0.02],[0.7,0.08],
 [0.71,-0.15],[0.73,0.3],[0.74,0.13],[0.75,-0.07],[0.76,-0.76],[0.77,-0.04],[0.78,-0.22],[0.79,0.39],
 [0.8,-0.36],[0.81,0.24],[0.82,0.14],[0.82,-0.02],[0.83,0.11],[0.86,0.05],[0.87,-0.14],[0.88,0.04],[0.89,-0.1],[0.89,0.27],[0.9,0.21],[0.9,-0.12],
 [0.93,0.34],[0.95,-0.27],[0.97,0.06],
 [1.0,0.28],[1.07,0.08],[1.08,0.1],[1.09,-0.1],[1.1,0.22],[1.1,0.12],
 [1.11,0.03],[1.12,0.13],[1.15,-0.35],[1.19,-0.05],[1.2,-0.07],[1.21,0.06],[1.24,0.04],[1.25,0.02],[1.26,-0.19],
 [1.52,-0.13],
 [-0.06,0.1],[-0.04,-0.18],[-0.02,0.2],[0.0,0.03],[0.02,-0.07],[0.03,0.14],[0.05,-0.23],[0.06,0.09],[0.08,0.13],[0.09,-0.03],[0.11,0.09],[0.12,-0.2],[0.13,0.16],[0.14,-0.05],[0.16,0.04],[0.17,-0.13],[0.19,0.07],[0.2,-0.2],[0.21,0.15],[0.22,-0.11],[0.23,0.04],[0.24,-0.16],[0.25,0.2],[0.26,-0.08],[0.27,0.06],[0.29,-0.01],[0.3,0.16],[0.31,-0.14],[0.32,0.07],[0.33,-0.06],[0.34,0.12],[0.35,-0.22],[0.36,0.03],[0.37,-0.1],[0.38,0.18],[0.39,-0.05],[0.41,0.05],[0.42,-0.12],[0.43,0.17],[0.44,-0.15],[0.45,0.09],[0.46,-0.08],[0.47,0.03],[0.48,-0.17],[-0.08,0.04],[-0.06,-0.12],[0.01,0.24],[0.04,-0.27],[0.15,0.22],[0.28,0.22],[0.12,0.05],[0.18,-0.04],[0.24,0.1],[0.35,0.09],[0.4,0.11],[0.07,-0.01],[0.1,0.02],[0.21,-0.04]
];

// ---------------- LAYOUT / STYLE ----------------
const FONT = '"Liberation Sans", Arial, Helvetica, sans-serif';
const TXT = '#231f20';
const PTC = '#6d6e71';
const PTFILL = 'rgba(109,110,113,0.1)';
const TICK_FS = 15, NAME_FS = 19, TITLE_FS = 22;
const rowTop = [42, 318.5, 594.5, 871, 1148];
const rowH = 155;
const scL = 76, scW = 362, hiL = 537, hiW = 360;
const titleY = [19, 296, 572, 848, 1124];
const scXLim = [[0.05,5.72],[98.8,208.9],[0.146,2.854],[-2.69,3.48],[-1.414,1.629]];
const scYLim = [[-1.95,1.95],[-4.15,3.72],[-1.345,1.89],[-0.79,1.26],[-0.81,0.57]];
const hiXLim = [[-2.16,2.16],[-4.32,4.32],[-2.16,2.16],[-1.08,1.08],[-1.08,1.08]];

function colsToPts(cols){ const o=[]; cols.forEach(c=>c[1].forEach(y=>o.push([c[0],y]))); return o; }
function rowsToPts(rows){ const o=[]; rows.forEach(r=>r[1].forEach(x=>o.push([x,r[0]]))); return o; }
function fmt(dec){ return v => { const s=(Math.abs(v)<1e-9?0:v).toFixed(dec); return s.replace('-', '\u2212'); }; }

const grids=[], xAxes=[], yAxes=[], series=[], graphics=[];
const hidden = {axisLine:{show:false}, axisTick:{show:false}, axisLabel:{show:false}, splitLine:{show:false}};

function dataGrid(L,T,W,H,xlim,ylim,xname,yname,border){
  const gi = grids.length;
  grids.push({left:L, top:T, width:W, height:H, show:border, borderColor:TXT, borderWidth:1, backgroundColor:'rgba(0,0,0,0)'});
  const xi = xAxes.length, yi = yAxes.length;
  xAxes.push(Object.assign({type:'value', gridIndex:gi, min:xlim[0], max:xlim[1], name:xname, nameLocation:'middle', nameGap:41,
    nameTextStyle:{fontSize:NAME_FS, fontFamily:FONT, color:TXT}}, hidden));
  yAxes.push(Object.assign({type:'value', gridIndex:gi, min:ylim[0], max:ylim[1], name:yname, nameLocation:'middle', nameGap:44,
    nameRotate:90, nameTextStyle:{fontSize:NAME_FS, fontFamily:FONT, color:TXT}}, hidden));
  return [xi, yi];
}
function tickGridX(L,T,W,H,xlim,t,showLine){
  const r = xlim[1]-xlim[0];
  const gi = grids.length;
  grids.push({left:L+(t[0]-xlim[0])/r*W, top:T, width:(t[1]-t[0])/r*W, height:H, show:false});
  xAxes.push({type:'value', gridIndex:gi, min:t[0], max:t[1], interval:t[2], position:'bottom',
    axisLine:{show:showLine, lineStyle:{color:TXT, width:1}},
    axisTick:{show:true, inside:false, length:7, lineStyle:{color:TXT, width:1}},
    axisLabel:{show:true, margin:8, fontSize:TICK_FS, fontFamily:FONT, color:TXT, formatter:fmt(t[3])},
    splitLine:{show:false}});
  yAxes.push(Object.assign({type:'value', gridIndex:gi, min:0, max:1, show:false}, hidden));
}
function tickGridY(L,T,W,H,ylim,t,showLine){
  const r = ylim[1]-ylim[0];
  const gi = grids.length;
  grids.push({left:L, top:T+(ylim[1]-t[1])/r*H, width:W, height:(t[1]-t[0])/r*H, show:false});
  yAxes.push({type:'value', gridIndex:gi, min:t[0], max:t[1], interval:t[2], position:'left',
    axisLine:{show:showLine, lineStyle:{color:TXT, width:1}},
    axisTick:{show:true, inside:false, length:7, lineStyle:{color:TXT, width:1}},
    axisLabel:{show:true, margin:14, fontSize:TICK_FS, fontFamily:FONT, color:TXT, formatter:fmt(t[3])},
    splitLine:{show:false}});
  xAxes.push(Object.assign({type:'value', gridIndex:gi, min:0, max:1, show:false}, hidden));
}

function scatterPanel(k, pts, xt, yt){
  const T=rowTop[k];
  const [xi, yi] = dataGrid(scL, T, scW, rowH, scXLim[k], scYLim[k], scatterXNames[k], scatterYNames[k], true);
  series.push({type:'scatter', xAxisIndex:xi, yAxisIndex:yi, data:pts, symbol:'circle', symbolSize:7,
    itemStyle:{color:PTFILL, borderColor:PTC, borderWidth:1.3}, silent:true, animation:false, clip:true,
    large:false, progressive:0});
  tickGridX(scL, T, scW, rowH, scXLim[k], xt, false);
  tickGridY(scL, T, scW, rowH, scYLim[k], yt, false);
}

function histPanel(k, start, width, counts, xt, yt){
  const T=rowTop[k];
  const mx = Math.max.apply(null, counts);
  const ylim = [-0.04*mx, 1.04*mx];
  const [xi, yi] = dataGrid(hiL, T, hiW, rowH, hiXLim[k], ylim, histXNames[k], 'Frequency', false);
  const data = counts.map((c,i)=>[start+i*width, start+(i+1)*width, c]);
  series.push({type:'custom', xAxisIndex:xi, yAxisIndex:yi, data:data, silent:true, animation:false,
    encode:{x:[0,1], y:2},
    renderItem:function(params, api){
      const p0 = api.coord([api.value(0), 0]);
      const p1 = api.coord([api.value(1), api.value(2)]);
      const cs = params.coordSys;
      const x0 = Math.max(p0[0], cs.x), x1 = Math.min(p1[0], cs.x+cs.width);
      if (x1 <= x0) return null;
      return {type:'rect', shape:{x:x0, y:p1[1], width:x1-x0, height:p0[1]-p1[1]},
        style:{fill:'#d3d4d6', stroke:TXT, lineWidth:1}};
    }});
  tickGridX(hiL, T, hiW, rowH, hiXLim[k], xt, true);
  tickGridY(hiL, T, hiW, rowH, ylim, yt, true);
}

scatterPanel(0, colsToPts(amCols), amXTicks, amYTicks);
histPanel(0, amHistStart, amHistWidth, amHistCounts, hist1XTicks, hist1YTicks);
scatterPanel(1, colsToPts(bmCols), bmXTicks, bmYTicks);
histPanel(1, bmHistStart, bmHistWidth, bmHistCounts, hist2XTicks, hist2YTicks);
scatterPanel(2, colsToPts(aiCols), aiXTicks, aiYTicks);
histPanel(2, aiHistStart, aiHistWidth, aiHistCounts, hist3XTicks, hist3YTicks);
scatterPanel(3, rowsToPts(boRows).concat(boLoose), boXTicks, boYTicks);
histPanel(3, boHistStart, boHistWidth, boHistCounts, hist4XTicks, hist4YTicks);
scatterPanel(4, ptPoints, ptXTicks, ptYTicks);
histPanel(4, ptHistStart, ptHistWidth, ptHistCounts, hist5XTicks, hist5YTicks);

titles.forEach((t,k)=>{
  graphics.push({type:'text', x:468, y:titleY[k], silent:true,
    style:{text:t, fontSize:TITLE_FS, fontFamily:FONT, fill:TXT, align:'center', verticalAlign:'middle', textAlign:'center', textVerticalAlign:'middle'}});
});

const chart = echarts.init(document.getElementById('c'), null, {renderer:'canvas'});
chart.setOption({animation:false, backgroundColor:'#fff', grid:grids, xAxis:xAxes, yAxis:yAxes, series:series, graphic:graphics});
</script></body></html>
